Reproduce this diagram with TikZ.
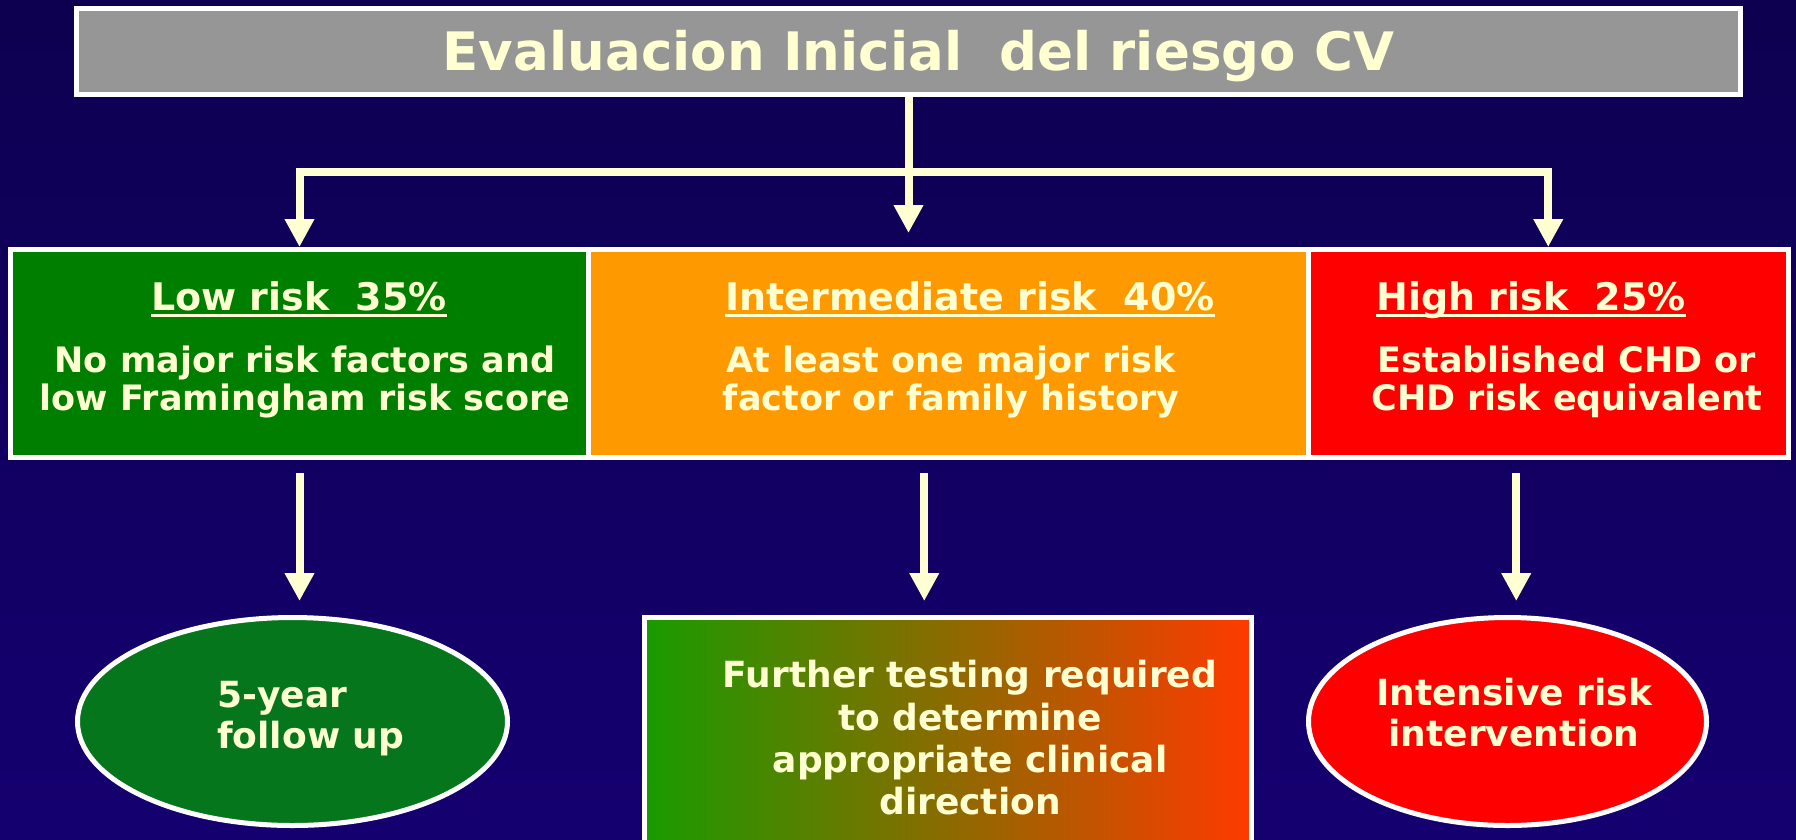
\documentclass[tikz,border=0pt]{standalone}
\usepackage{fontspec}
\setmainfont{DejaVu Sans}
\usetikzlibrary{arrows.meta,shapes.geometric}

\definecolor{bgtop}{RGB}{13,0,80}
\definecolor{bgbot}{RGB}{21,0,112}
\definecolor{cream}{RGB}{255,255,210}
\definecolor{titlegray}{RGB}{150,150,150}
\definecolor{lowgreen}{RGB}{0,126,0}
\definecolor{ovalgreen}{RGB}{5,118,27}
\definecolor{midorange}{RGB}{255,153,0}
\definecolor{highred}{RGB}{255,0,0}
\definecolor{fadegreen}{RGB}{25,155,0}
\definecolor{fadered}{RGB}{255,58,0}

\newsavebox\ulbox
\newcommand\ulhead[1]{\sbox\ulbox{#1}\rlap{\rule[-7pt]{\wd\ulbox}{3pt}}\usebox\ulbox}

\begin{document}
\begin{tikzpicture}[x=1pt,y=-1pt,
	conn/.style={draw=cream,line width=8pt,line join=miter},
	arrowed/.style={-{Triangle[width=28pt,length=28pt]}},
	cell/.style={rectangle,draw=white,line width=5pt,inner sep=0pt},
	oval/.style={ellipse,draw=white,line width=5pt,inner sep=0pt},
	head/.style={text=cream,font=\bfseries\fontsize{38}{40}\selectfont,inner sep=0pt,anchor=base},
	body/.style={text=cream,font=\bfseries\fontsize{35}{38}\selectfont,inner sep=0pt,align=center},
	outtext/.style={text=cream,font=\bfseries\fontsize{36}{41}\selectfont,inner sep=0pt}]
		\fill[top color=bgtop,bottom color=bgbot] (0,0) rectangle (1796,839);
		\useasboundingbox (0,0) rectangle (1796,839);
		\clip (0,0) rectangle (1796,839);

		\node[cell,fill=titlegray,minimum width=1664pt,minimum height=86pt,text=cream,
			font=\bfseries\fontsize{53}{60}\selectfont,text height=38.6pt,text depth=0pt]
			(title) at (908.5,51.5) {\hspace*{20pt}Evaluacion Inicial\ \ del riesgo CV};

		\node[cell,fill=lowgreen,minimum width=578pt,minimum height=208pt] (low) at (299.5,353.5) {};
		\node[cell,fill=midorange,minimum width=719.5pt,minimum height=208pt] (mid) at (948.25,353.5) {};
		\node[cell,fill=highred,minimum width=480.5pt,minimum height=208pt] (high) at (1548.25,353.5) {};

		\node[head] (lowhead) at (299,310) {\ulhead{Low risk\ \ 35\%}};
		\node[body] (lowbody) at (305,382) {No major risk factors and\\low Framingham risk score};
		\node[head] (midhead) at (970,310) {\ulhead{Intermediate risk\ \ 40\%}};
		\node[body] (midbody) at (951,382) {At least one major risk\\factor or family history};
		\node[head] (highhead) at (1531,310) {\ulhead{High risk\ \ 25\%}};
		\node[body] (highbody) at (1567,382) {Established CHD or\\CHD risk equivalent};

		\node[oval,fill=ovalgreen,minimum width=430pt,minimum height=208pt] (follow) at (292.5,721.5) {};
		\node[cell,left color=fadegreen,right color=fadered,minimum width=607pt,minimum height=242.5pt] (test) at (948,738.75) {};
		\node[oval,fill=highred,minimum width=398pt,minimum height=208pt] (intense) at (1507.5,721.5) {};

		\node[outtext,align=left,anchor=west] (followtxt) at (217,718.7) {5-year\\follow up};
		\node[outtext,align=center,font=\bfseries\fontsize{36}{42.3}\selectfont] (testtxt) at (970,737.8) {Further testing required\\to determine\\appropriate clinical\\direction};
		\node[outtext,align=center] (intensetxt) at (1514,712.8) {Intensive risk\\intervention};

		\coordinate (split) at (908.5,172);
		\coordinate (midtip) at (908.5,233);
		\draw[conn] (title.south) -- (split);
		\draw[conn,arrowed] (split) -| (low.north);
		\draw[conn,arrowed] (split) -| (high.north);
		\draw[conn,arrowed] (split) -- (midtip);

		\draw[conn,arrowed,shorten <=13pt,shorten >=14pt] (low.south) -- (low.south |- follow.north);
		\draw[conn,arrowed,shorten <=13pt,shorten >=14pt] ([xshift=-24pt]mid.south) -- ([xshift=-24pt]mid.south |- test.north);
		\draw[conn,arrowed,shorten <=13pt,shorten >=14pt] ([xshift=-32pt]high.south) -- ([xshift=-32pt]high.south |- intense.north);
	\end{tikzpicture}
\end{document}
